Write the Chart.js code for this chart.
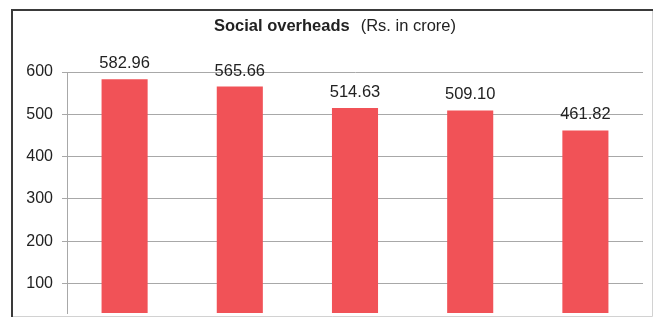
<!DOCTYPE html>
<html lang="en">
<head>
    <meta charset="UTF-8">
    <title>Social overheads</title>
    <style>
        html, body { margin: 0; padding: 0; background: #fff; }
        #wrap { width: 654px; height: 318px; }
    </style>
</head>
<body>
    <div id="wrap">
        <canvas id="myChart" width="654" height="318"></canvas>
    </div>

    <script src="https://cdn.jsdelivr.net/npm/chart.js"></script>

    <script>
// chart data
const categories = ['Year 1', 'Year 2', 'Year 3', 'Year 4', 'Year 5'];
const overheads = [582.96, 565.66, 514.63, 509.10, 461.82];
const yTicks = [100, 200, 300, 400, 500, 600];
const titleBold = 'Social overheads';
const titleRest = '(Rs. in crore)';

const FONT = '"Liberation Sans", Arial, sans-serif';

// frame round the chart, dark on top/left, light on right/bottom
const framePlugin = {
    id: 'frame',
    beforeDraw(chart) {
        const c = chart.ctx;
        c.save();
        c.fillStyle = '#fff';
        c.fillRect(0, 0, chart.width, chart.height);
        c.strokeStyle = '#d2d2d2';
        c.lineWidth = 1;
        c.beginPath();
        c.moveTo(652.5, 10);
        c.lineTo(652.5, 316.5);
        c.lineTo(12, 316.5);
        c.stroke();
        c.strokeStyle = '#3a3a3a';
        c.lineWidth = 2;
        c.beginPath();
        c.moveTo(12, 317);
        c.lineTo(12, 10);
        c.lineTo(653, 10);
        c.stroke();
        c.restore();
    }
};

// title with a bold part and a plain part
const titlePlugin = {
    id: 'mixedTitle',
    afterDraw(chart) {
        const c = chart.ctx;
        c.save();
        c.textBaseline = 'alphabetic';
        c.fillStyle = '#222';
        c.font = 'bold 16.5px ' + FONT;
        const w1 = c.measureText(titleBold).width;
        c.font = '16.5px ' + FONT;
        const w2 = c.measureText(titleRest).width;
        const gap = 11;
        let x = 335 - (w1 + gap + w2) / 2;
        c.font = 'bold 16.5px ' + FONT;
        c.fillText(titleBold, x, 31);
        c.font = '16.5px ' + FONT;
        c.fillText(titleRest, x + w1 + gap, 31);
        c.restore();
    }
};

// value above each bar
const valueLabels = {
    id: 'valueLabels',
    afterDatasetsDraw(chart) {
        const c = chart.ctx;
        const meta = chart.getDatasetMeta(0);
        c.save();
        c.font = '16.5px ' + FONT;
        c.fillStyle = '#222';
        c.textAlign = 'center';
        c.textBaseline = 'alphabetic';
        meta.data.forEach((bar, i) => {
            c.fillText(overheads[i].toFixed(2), bar.x, bar.y - 11);
        });
        c.restore();
    }
};

const ctx = document.getElementById('myChart').getContext('2d');

const myChart = new Chart(ctx, {
    type: 'bar',
    data: {
        labels: categories,
        datasets: [{
            label: 'Social overheads',
            data: overheads,
            backgroundColor: '#F15257',
            borderWidth: 0,
            categoryPercentage: 1.0,
            barPercentage: 0.4
        }]
    },
    options: {
        responsive: false,
        animation: false,
        layout: { padding: { left: 0, right: 11, top: 72, bottom: 5 } },
        plugins: {
            legend: { display: false },
            title: { display: false },
            tooltip: { enabled: false }
        },
        scales: {
            x: { display: false },
            y: {
                min: 30,
                max: 600,
                afterBuildTicks: function(scale) {
                    scale.ticks = yTicks.map(v => ({ value: v }));
                },
                afterFit: function(scale) {
                    scale.width = 67;
                    scale.paddingTop = 0;
                    scale.paddingBottom = 0;
                },
                grid: {
                    color: '#a8a8a8',
                    lineWidth: 1,
                    drawTicks: true,
                    tickLength: 5
                },
                border: { display: true, color: '#a8a8a8', width: 1 },
                ticks: {
                    color: '#222',
                    padding: 9,
                    font: { family: FONT, size: 16 }
                }
            }
        }
    },
    plugins: [framePlugin, valueLabels, titlePlugin]
});
    </script>
</body>
</html>
